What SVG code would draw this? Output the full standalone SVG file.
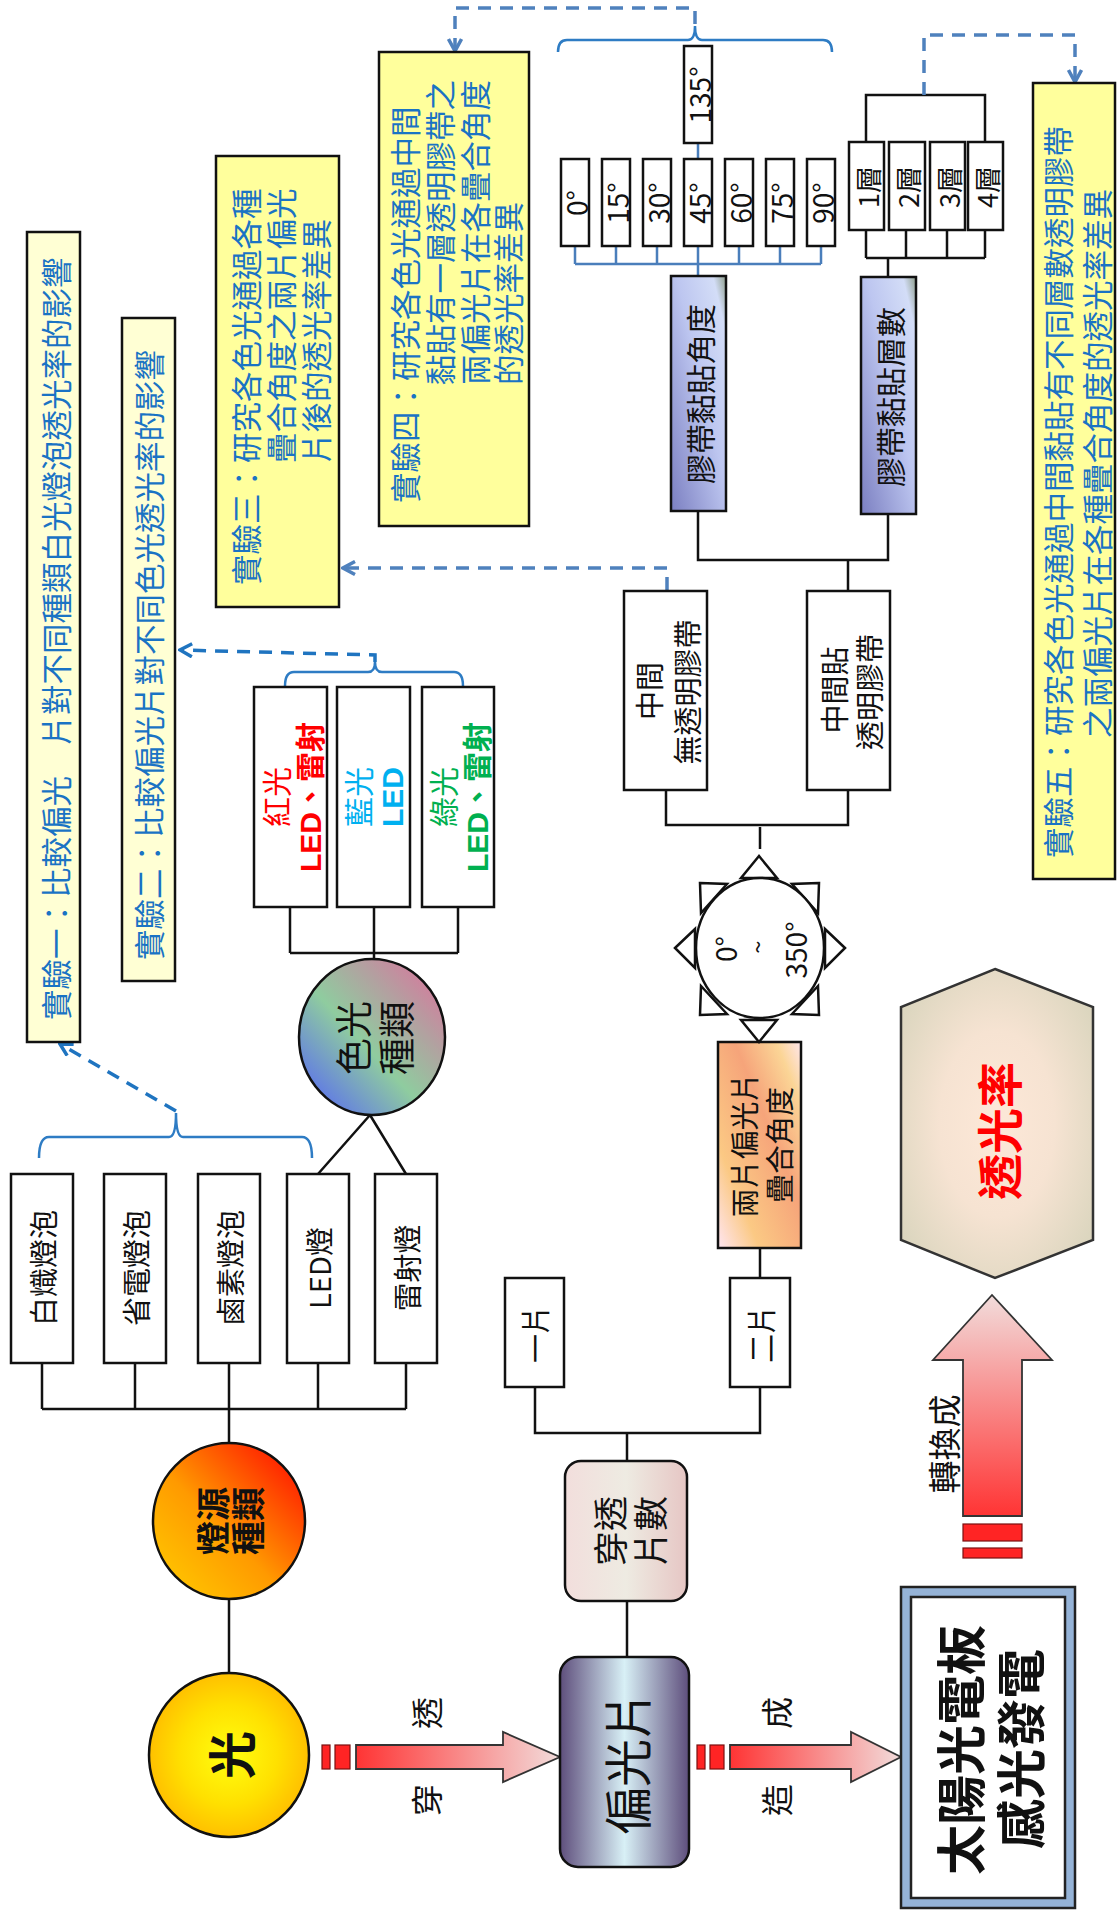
<svg xmlns="http://www.w3.org/2000/svg" width="1120" height="1910" viewBox="0 0 1120 1910">
<style>
.t{font-family:"Noto Sans CJK TC","Noto Sans CJK SC",sans-serif;dominant-baseline:central;fill:#111}
.m{text-anchor:middle}
.bx{fill:#fff;stroke:#111;stroke-width:2.5}
.ln{fill:none;stroke:#111;stroke-width:2.5}
.bl{fill:none;stroke:#4A7EBB;stroke-width:2.5}
.br{fill:none;stroke:#2E7CC4;stroke-width:2.5}
.ds1{fill:none;stroke:#1F74C0;stroke-width:3.5;stroke-dasharray:13 9}
.ds2{fill:none;stroke:#4F81BD;stroke-width:3.5;stroke-dasharray:13 9}
.ey1{fill:#FFFFD4;stroke:#111;stroke-width:2.5}
.ey2{fill:#FFFF9C;stroke:#111;stroke-width:2.5}
.et{font-size:30.5px;fill:#1A73C4}
.n30{font-size:29px}
.deg{font-size:28px}
.bar{fill:#FF2424;stroke:#7A1010;stroke-width:1.2}
.arr{stroke:#333;stroke-width:1.8}
</style>
<defs>
<marker id="ah1" viewBox="0 0 16 16" refX="14" refY="8" markerWidth="16" markerHeight="16" markerUnits="userSpaceOnUse" orient="auto"><path d="M2,1.5 L14,8 L2,14.5" fill="none" stroke="#1F74C0" stroke-width="3.5"/></marker>
<marker id="ah2" viewBox="0 0 16 16" refX="14" refY="8" markerWidth="16" markerHeight="16" markerUnits="userSpaceOnUse" orient="auto"><path d="M2,1.5 L14,8 L2,14.5" fill="none" stroke="#4F81BD" stroke-width="3.5"/></marker>
<radialGradient id="gSun" cx="0.5" cy="0.5" r="0.55"><stop offset="0" stop-color="#FFFF10"/><stop offset="0.55" stop-color="#FFE000"/><stop offset="1" stop-color="#FFB800"/></radialGradient>
<linearGradient id="gSrc" x1="0" y1="1" x2="1" y2="0"><stop offset="0" stop-color="#FFD000"/><stop offset="0.45" stop-color="#FF9A00"/><stop offset="0.85" stop-color="#FF2A00"/><stop offset="1" stop-color="#FF1A00"/></linearGradient>
<linearGradient id="gCol" x1="0" y1="1" x2="1" y2="0"><stop offset="0" stop-color="#4F5BFF"/><stop offset="0.45" stop-color="#8FCC9F"/><stop offset="0.7" stop-color="#B3A0A0"/><stop offset="1" stop-color="#E46A9C"/></linearGradient>
<linearGradient id="gPol" x1="0" y1="0" x2="1" y2="0"><stop offset="0" stop-color="#5E4E7C"/><stop offset="0.5" stop-color="#D8F0F6"/><stop offset="1" stop-color="#5E4E7C"/></linearGradient>
<linearGradient id="gCnt" x1="0" y1="0" x2="1" y2="0"><stop offset="0" stop-color="#F2DEDC"/><stop offset="0.5" stop-color="#EEEBE2"/><stop offset="1" stop-color="#E6C6C4"/></linearGradient>
<linearGradient id="gTwo" x1="0" y1="1" x2="1" y2="0"><stop offset="0" stop-color="#FFE6F2"/><stop offset="0.25" stop-color="#FBC984"/><stop offset="0.6" stop-color="#F6A47A"/><stop offset="0.85" stop-color="#FBD596"/><stop offset="1" stop-color="#FFE6EC"/></linearGradient>
<linearGradient id="gTape" x1="0" y1="1" x2="1" y2="0"><stop offset="0" stop-color="#7B7FC1"/><stop offset="0.55" stop-color="#BDC6F0"/><stop offset="0.88" stop-color="#D3DDF7"/><stop offset="1" stop-color="#8E9E8A"/></linearGradient>
<radialGradient id="gHex" cx="0.5" cy="0.5" r="0.6"><stop offset="0" stop-color="#FDE8D8"/><stop offset="0.5" stop-color="#F6E3D2"/><stop offset="1" stop-color="#DCD6BF"/></radialGradient>
<linearGradient id="gArrH" x1="0" y1="0" x2="1" y2="0"><stop offset="0" stop-color="#FF3434"/><stop offset="1" stop-color="#F2DCDB"/></linearGradient>
<linearGradient id="gArrV" x1="0" y1="1" x2="0" y2="0"><stop offset="0" stop-color="#FF3434"/><stop offset="1" stop-color="#F2DCDB"/></linearGradient>
</defs>
<rect width="1120" height="1910" fill="#fff"/>

<g id="connectors">
<path class="ln" d="M42,1363 V1409 M135,1363 V1409 M229,1363 V1409 M318,1363 V1409 M406,1363 V1409 M42,1409 H406 M229,1409 V1443"/>
<path class="ln" d="M229,1599 V1673"/>
<path class="ln" d="M370,1115 L318,1174 M370,1115 L406,1174"/>
<path class="ln" d="M290,907 V953 M374,907 V953 M458,907 V953 M290,953 H458 M374,953 V959"/>
<path class="ln" d="M627,1601 V1657 M627,1461 V1433 M535,1387 V1433 H760 V1387 M760,1278 V1248"/>
<path class="ln" d="M666,790 V825 H848 V790 M760,827 V849"/>
<path class="ln" d="M698,511 V560 H888 V514 M848,560 V591"/>
<path class="ln" d="M866,230 V258 M906,230 V258 M947,230 V258 M985,230 V258 M866,258 H985 M888,258 V277"/>
<path class="ln" d="M866,142 V95 H985 V142"/>
<path class="bl" d="M575,246 V264 M616,246 V264 M657,246 V264 M698,246 V264 M739,246 V264 M780,246 V264 M821,246 V264 M575,264 H821 M698,264 V276 M698,143 V159"/>
<path class="br" d="M558,52 Q558,40 567,40 H688 Q695,40 695,26 Q695,40 702,40 H823 Q832,40 832,52"/>
<path class="br" d="M285,686 Q285,672 294,672 H368 Q375,672 375,662 Q375,672 382,672 H454 Q463,672 463,686"/>
<path class="br" d="M39,1158 Q39,1137 49,1137 H169 Q176,1137 176,1113 Q176,1137 183,1137 H302 Q312,1137 312,1158"/>
<path class="ds1" d="M176,1111 L60,1044" marker-end="url(#ah1)"/>
<path class="ds1" d="M375,662 V655 L180,650" marker-end="url(#ah1)"/>
<path class="ds2" d="M667,590 V568 H343" marker-end="url(#ah2)"/>
<path class="ds2" d="M695,24 V8 H455 V51" marker-end="url(#ah2)"/>
<path class="ds2" d="M924,95 V35 H1075 V82" marker-end="url(#ah2)"/>
<rect class="bar" x="322" y="1745" width="8" height="24"/>
<rect class="bar" x="335" y="1745" width="15" height="24"/>
<path class="arr" fill="url(#gArrH)" d="M356,1745 H503 V1732 L560,1757 L503,1782 V1769 H356 Z"/>
<rect class="bar" x="697" y="1745" width="8" height="24"/>
<rect class="bar" x="710" y="1745" width="14" height="24"/>
<path class="arr" fill="url(#gArrH)" d="M730,1745 H851 V1732 L901,1757 L851,1782 V1769 H730 Z"/>
<path class="arr" fill="url(#gArrV)" d="M963,1516 V1360 H933 L992,1295 L1052,1360 H1022 V1516 Z"/>
<rect class="bar" x="963" y="1524" width="59" height="17"/>
<rect class="bar" x="963" y="1548" width="59" height="10"/>
<text class="t m" font-size="32" transform="translate(425,1800) rotate(-90)">穿</text>
<text class="t m" font-size="32" transform="translate(425,1713) rotate(-90)">透</text>
<text class="t m" font-size="32" transform="translate(775,1800) rotate(-90)">造</text>
<text class="t m" font-size="32" transform="translate(775,1713) rotate(-90)">成</text>
<text class="t m" font-size="33" transform="translate(943,1444) rotate(-90)">轉換成</text>
</g>

<g id="exp1"><rect class="ey1" x="27" y="232" width="53" height="810"/>
<text class="t et" transform="translate(55,1020) rotate(-90)">實驗一：比較偏光　片對不同種類白光燈泡透光率的影響</text></g>
<g id="exp2"><rect class="ey1" x="122" y="318" width="53" height="663"/>
<text class="t et" transform="translate(148,960) rotate(-90)">實驗二：比較偏光片對不同色光透光率的影響</text></g>
<g id="exp3"><rect class="ey2" x="216" y="156" width="123" height="451"/>
<text class="t et" transform="translate(245,585) rotate(-90)">實驗三：研究各色光通過各種</text>
<text class="t et" transform="translate(280,463) rotate(-90)">疊合角度之兩片偏光</text>
<text class="t et" transform="translate(315,463) rotate(-90)">片後的透光率差異</text></g>
<g id="exp4"><rect class="ey2" x="379" y="52" width="150" height="474"/>
<text class="t et" transform="translate(404,503) rotate(-90)">實驗四：研究各色光通過中間</text>
<text class="t et" transform="translate(439,385) rotate(-90)">黏貼有一層透明膠帶之</text>
<text class="t et" transform="translate(474,385) rotate(-90)">兩偏光片在各疊合角度</text>
<text class="t et" transform="translate(507,385) rotate(-90)">的透光率差異</text></g>
<g id="exp5"><rect class="ey2" x="1033" y="83" width="82" height="796"/>
<text class="t et" transform="translate(1057,858) rotate(-90)">實驗五：研究各色光通過中間黏貼有不同層數透明膠帶</text>
<text class="t et" transform="translate(1096,738) rotate(-90)">之兩偏光片在各種疊合角度的透光率差異</text></g>

<g id="light"><ellipse cx="229" cy="1755" rx="80" ry="82" fill="url(#gSun)" stroke="#111" stroke-width="2.5"/>
<text class="t m" font-size="48" font-weight="bold" transform="translate(229,1755) rotate(-90)">光</text></g>
<g id="source"><ellipse cx="229" cy="1521" rx="76" ry="78" fill="url(#gSrc)" stroke="#111" stroke-width="2.5"/>
<text class="t m" font-size="34" font-weight="bold" transform="translate(211,1521) rotate(-90)">燈源</text>
<text class="t m" font-size="34" font-weight="bold" transform="translate(246,1521) rotate(-90)">種類</text></g>
<g id="s1"><rect class="bx" x="11" y="1174" width="62" height="189"/><text class="t m n30" transform="translate(42,1268) rotate(-90)">白熾燈泡</text></g>
<g id="s2"><rect class="bx" x="104" y="1174" width="62" height="189"/><text class="t m n30" transform="translate(135,1268) rotate(-90)">省電燈泡</text></g>
<g id="s3"><rect class="bx" x="198" y="1174" width="62" height="189"/><text class="t m n30" transform="translate(229,1268) rotate(-90)">鹵素燈泡</text></g>
<g id="s4"><rect class="bx" x="287" y="1174" width="62" height="189"/><text class="t m n30" transform="translate(318,1268) rotate(-90)">LED燈</text></g>
<g id="s5"><rect class="bx" x="375" y="1174" width="62" height="189"/><text class="t m n30" transform="translate(406,1268) rotate(-90)">雷射燈</text></g>

<g id="colorkind"><ellipse cx="372" cy="1037" rx="73" ry="78" fill="url(#gCol)" stroke="#111" stroke-width="2.5"/>
<text class="t m" font-size="37" transform="translate(352,1038) rotate(-90)">色光</text>
<text class="t m" font-size="37" transform="translate(395,1038) rotate(-90)">種類</text></g>
<g id="red"><rect class="bx" x="254" y="687" width="73" height="220"/>
<text class="t m" font-size="30" style="fill:#FF0000" transform="translate(275,797) rotate(-90)">紅光</text>
<text class="t m" font-size="30" font-weight="bold" style="fill:#FF0000;font-family:'Liberation Sans','Noto Sans CJK TC',sans-serif" transform="translate(310,797) rotate(-90)">LED、雷射</text></g>
<g id="blue"><rect class="bx" x="337" y="687" width="73" height="220"/>
<text class="t m" font-size="30" style="fill:#00B0F0" transform="translate(357,797) rotate(-90)">藍光</text>
<text class="t m" font-size="30" font-weight="bold" style="fill:#00B0F0;font-family:'Liberation Sans','Noto Sans CJK TC',sans-serif" transform="translate(392,797) rotate(-90)">LED</text></g>
<g id="green"><rect class="bx" x="422" y="687" width="72" height="220"/>
<text class="t m" font-size="30" style="fill:#00B050" transform="translate(442,797) rotate(-90)">綠光</text>
<text class="t m" font-size="30" font-weight="bold" style="fill:#00B050;font-family:'Liberation Sans','Noto Sans CJK TC',sans-serif" transform="translate(477,797) rotate(-90)">LED、雷射</text></g>

<g id="polarizer"><rect x="560" y="1657" width="129" height="210" rx="18" fill="url(#gPol)" stroke="#111" stroke-width="2.5"/>
<text class="t m" font-size="48" transform="translate(625,1763) rotate(-90)">偏光片</text></g>
<g id="count"><rect x="565" y="1461" width="122" height="140" rx="16" fill="url(#gCnt)" stroke="#111" stroke-width="2.5"/>
<text class="t m" font-size="35" transform="translate(608,1531) rotate(-90)">穿透</text>
<text class="t m" font-size="35" transform="translate(648,1531) rotate(-90)">片數</text></g>
<g id="one"><rect class="bx" x="505" y="1278" width="59" height="109"/><text class="t m n30" transform="translate(534,1334) rotate(-90)">一片</text></g>
<g id="two"><rect class="bx" x="730" y="1278" width="60" height="109"/><text class="t m n30" transform="translate(760,1334) rotate(-90)">二片</text></g>
<g id="overlap"><rect x="718" y="1042" width="83" height="206" fill="url(#gTwo)" stroke="#111" stroke-width="2.5"/>
<text class="t m n30" transform="translate(743,1145) rotate(-90)">兩片偏光片</text>
<text class="t m n30" transform="translate(778,1145) rotate(-90)">疊合角度</text></g>

<g id="compass" fill="#fff" stroke="#111" stroke-width="2.5">
<polygon points="759,856 741,878 777,878"/>
<polygon points="759,1042 741,1020 777,1020"/>
<polygon points="675,948 695,929 695,968"/>
<polygon points="845,948 825,929 825,968"/>
<polygon points="700,883 727,884 701,913"/>
<polygon points="819,883 792,884 818,913"/>
<polygon points="700,1015 701,986 727,1014"/>
<polygon points="819,1015 818,986 792,1014"/>
<ellipse cx="760" cy="948" rx="64" ry="70"/>
<g stroke="none"><text class="t m deg" transform="translate(725,949) rotate(-90)">0°</text>
<text class="t m" font-size="24" transform="translate(756,947) rotate(-90)">~</text>
<text class="t m deg" transform="translate(795,950) rotate(-90)">350°</text></g>
</g>

<g id="notape"><rect class="bx" x="624" y="591" width="83" height="199"/>
<text class="t m n30" transform="translate(648,691) rotate(-90)">中間</text>
<text class="t m n30" transform="translate(686,692) rotate(-90)">無透明膠帶</text></g>
<g id="tape"><rect class="bx" x="807" y="591" width="83" height="199"/>
<text class="t m n30" transform="translate(833,690) rotate(-90)">中間貼</text>
<text class="t m n30" transform="translate(868,692) rotate(-90)">透明膠帶</text></g>
<g id="tapeangle"><rect x="671" y="276" width="55" height="235" fill="url(#gTape)" stroke="#111" stroke-width="2.5"/>
<text class="t m" font-size="30" transform="translate(699,394) rotate(-90)">膠帶黏貼角度</text></g>
<g id="tapelayers"><rect x="861" y="277" width="55" height="237" fill="url(#gTape)" stroke="#111" stroke-width="2.5"/>
<text class="t m" font-size="30" transform="translate(889,397) rotate(-90)">膠帶黏貼層數</text></g>

<g id="a0"><rect class="bx" x="561" y="159" width="28" height="87"/><text class="t m deg" transform="translate(576,203) rotate(-90)">0°</text></g>
<g id="a15"><rect class="bx" x="602" y="159" width="28" height="87"/><text class="t m deg" transform="translate(617,203) rotate(-90)">15°</text></g>
<g id="a30"><rect class="bx" x="643" y="159" width="28" height="87"/><text class="t m deg" transform="translate(658,203) rotate(-90)">30°</text></g>
<g id="a45"><rect class="bx" x="684" y="159" width="28" height="87"/><text class="t m deg" transform="translate(699,203) rotate(-90)">45°</text></g>
<g id="a60"><rect class="bx" x="725" y="159" width="28" height="87"/><text class="t m deg" transform="translate(740,203) rotate(-90)">60°</text></g>
<g id="a75"><rect class="bx" x="766" y="159" width="28" height="87"/><text class="t m deg" transform="translate(781,203) rotate(-90)">75°</text></g>
<g id="a90"><rect class="bx" x="807" y="159" width="28" height="87"/><text class="t m deg" transform="translate(822,203) rotate(-90)">90°</text></g>
<g id="a135"><rect class="bx" x="684" y="46" width="28" height="97"/><text class="t m deg" transform="translate(699,95) rotate(-90)">135°</text></g>

<g id="l1"><rect class="bx" x="849" y="142" width="35" height="88"/><text class="t m" font-size="27" transform="translate(867,187) rotate(-90)">1層</text></g>
<g id="l2"><rect class="bx" x="889" y="142" width="36" height="88"/><text class="t m" font-size="27" transform="translate(907,187) rotate(-90)">2層</text></g>
<g id="l3"><rect class="bx" x="930" y="142" width="35" height="88"/><text class="t m" font-size="27" transform="translate(948,187) rotate(-90)">3層</text></g>
<g id="l4"><rect class="bx" x="968" y="142" width="35" height="88"/><text class="t m" font-size="27" transform="translate(986,187) rotate(-90)">4層</text></g>

<g id="rate"><polygon points="995,969 1093,1007 1093,1240 995,1278 901,1240 901,1007" fill="url(#gHex)" stroke="#333" stroke-width="2.5"/>
<text class="t m" font-size="46" font-weight="bold" style="fill:#FF0000" transform="translate(997,1131) rotate(-90)">透光率</text></g>

<g id="solar"><rect x="901" y="1587" width="174" height="321" fill="#95B3D7" stroke="#222" stroke-width="2.5"/>
<rect x="911" y="1597" width="154" height="301" fill="#fff" stroke="#222" stroke-width="2.5"/>
<text class="t m" font-size="50" font-weight="bold" transform="translate(958,1750) rotate(-90)">太陽光電板</text>
<text class="t m" font-size="50" font-weight="bold" transform="translate(1018,1749) rotate(-90)">感光發電</text></g>
</svg>
